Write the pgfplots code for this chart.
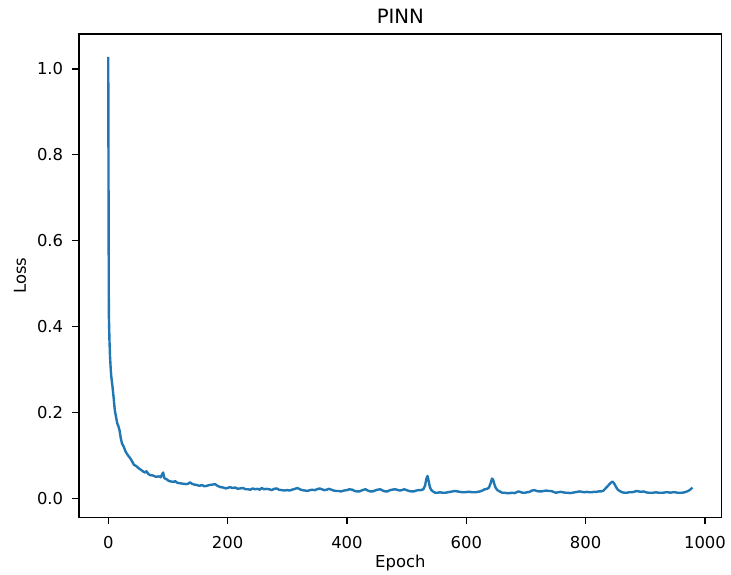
\documentclass[border=0pt]{standalone}
\usepackage{fontspec}
\setmainfont{DejaVu Sans}
\usepackage{pgfplots}
\pgfplotsset{compat=1.18}
\definecolor{tabblue}{HTML}{1F77B4}
\begin{document}
\begin{tikzpicture}[font=\fontsize{16.4}{19.7}\selectfont]
\begin{axis}[
  scale only axis,
  width=642.7pt, height=483.3pt,
  xmin=-49, xmax=1028, ymin=-0.0443, ymax=1.0815,
  xtick={0,200,400,600,800,1000},
  ytick={0,0.2,0.4,0.6,0.8,1.0},
  /pgf/number format/assume math mode=true,
  yticklabel style={/pgf/number format/fixed, /pgf/number format/fixed zerofill, /pgf/number format/precision=1, anchor=east, inner sep=0pt, xshift=-9pt},
  xticklabel style={/pgf/number format/fixed, /pgf/number format/precision=0, /pgf/number format/1000 sep={}, anchor=base, inner sep=0pt, yshift=-24.7pt},
  tick align=outside, tick pos=left,
  major tick length=6.7pt,
  tick style={black, line width=1.2pt},
  axis line style={line width=1.2pt},
  title={PINN},
  title style={font=\fontsize{19.7}{23}\selectfont, at={(0.5,1)}, anchor=base, yshift=4.7pt},
  xlabel={Epoch},
  xlabel style={at={(0.5,0)}, anchor=base, yshift=-49.7pt},
  ylabel={Loss},
  ylabel style={at={(axis description cs:-0.0918,0.5)}, anchor=center},
]
\addplot[tabblue, line width=2.4pt, line join=round] table {
x y
0 1.028
1 0.43
2 0.37
3 0.33
4 0.305
5 0.285
7 0.262
9 0.235
11 0.205
13 0.19
15 0.175
17 0.168
19 0.158
21 0.14
23 0.128
26 0.12
29 0.109
33 0.1
37 0.093
40 0.086
43 0.078
47 0.075
51 0.07
55 0.066
59 0.062
62 0.06
64 0.063
67 0.057
70 0.054
75 0.053
80 0.05
85 0.051
88 0.049
91 0.058
92 0.06
94 0.047
98 0.044
102 0.04
106 0.039
110 0.038
112 0.040
116 0.036
120 0.035
125 0.034
130 0.033
134 0.034
137 0.037
140 0.034
144 0.032
148 0.031
153 0.029
157 0.031
161 0.028
165 0.029
170 0.031
175 0.032
179 0.033
183 0.029
188 0.026
193 0.025
197 0.023
200 0.024
204 0.026
208 0.024
213 0.025
217 0.022
221 0.023
226 0.024
230 0.021
234 0.021
238 0.02
242 0.023
246 0.021
250 0.022
254 0.02
257 0.024
261 0.021
265 0.022
270 0.021
274 0.019
278 0.022
282 0.023
286 0.02
291 0.019
295 0.018
300 0.019
304 0.018
308 0.02
313 0.022
317 0.024
321 0.021
325 0.019
330 0.018
334 0.017
338 0.019
342 0.02
346 0.019
350 0.021
354 0.023
358 0.021
362 0.019
366 0.02
370 0.022
374 0.02
378 0.018
382 0.017
386 0.017
390 0.016
395 0.018
400 0.019
404 0.021
409 0.02
413 0.017
417 0.016
421 0.016
426 0.019
431 0.021
435 0.018
439 0.016
443 0.016
447 0.018
451 0.02
456 0.021
460 0.018
464 0.016
468 0.016
472 0.019
476 0.02
480 0.021
484 0.02
488 0.018
492 0.019
496 0.021
500 0.019
504 0.017
508 0.016
512 0.016
516 0.018
520 0.019
524 0.019
528 0.021
531 0.03
533 0.045
535 0.052
537 0.04
539 0.026
541 0.02
544 0.016
548 0.013
552 0.013
556 0.014
560 0.013
565 0.013
569 0.014
573 0.015
577 0.016
581 0.017
585 0.016
589 0.015
594 0.014
598 0.014
602 0.015
606 0.015
610 0.014
615 0.014
619 0.015
623 0.016
627 0.018
631 0.021
635 0.022
638 0.025
641 0.036
643 0.046
645 0.043
647 0.033
649 0.025
652 0.019
656 0.016
660 0.013
664 0.013
668 0.012
673 0.012
677 0.013
681 0.012
684 0.014
687 0.016
690 0.015
694 0.013
698 0.013
702 0.014
706 0.015
710 0.018
714 0.019
718 0.017
722 0.016
726 0.016
730 0.017
734 0.018
738 0.017
742 0.017
746 0.015
750 0.013
754 0.014
758 0.015
762 0.014
766 0.013
770 0.013
774 0.012
778 0.013
782 0.014
786 0.015
790 0.016
794 0.015
798 0.014
802 0.015
806 0.014
810 0.014
814 0.015
818 0.015
822 0.016
826 0.016
830 0.018
834 0.024
838 0.03
842 0.036
845 0.039
848 0.034
851 0.026
854 0.02
857 0.017
861 0.014
865 0.013
869 0.013
873 0.014
877 0.014
881 0.015
885 0.017
889 0.016
893 0.015
897 0.016
901 0.014
905 0.013
909 0.013
913 0.013
918 0.014
922 0.013
926 0.013
930 0.013
934 0.014
938 0.014
942 0.013
946 0.014
950 0.014
954 0.013
958 0.013
962 0.013
966 0.014
970 0.016
973 0.018
976 0.021
979 0.025
};
\end{axis}
\path (-79pt,-56.7pt) rectangle (652pt,517.3pt);
\end{tikzpicture}
\end{document}
